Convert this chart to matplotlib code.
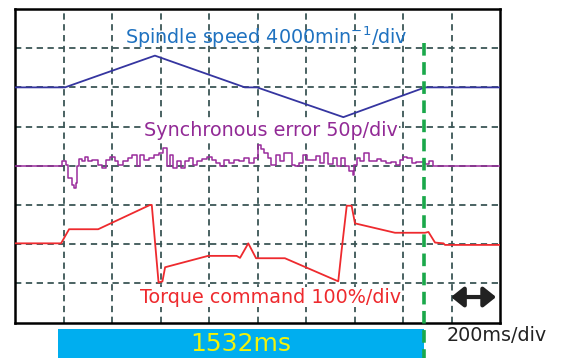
import matplotlib
matplotlib.use("Agg")
import matplotlib.pyplot as plt
from matplotlib.transforms import blended_transform_factory

# ---- data (time in ms, 200 ms/div) ----
speed_t = [0, 206, 577, 948, 998, 1354, 1691, 2000]
speed_v = [0, 0, 3240, 0, 0, -3040, 0, 0]          # min^-1, 4000/div

err_t = [0, 192, 198, 206, 213, 227, 241, 248, 254, 259, 268, 282, 296, 309, 330, 351,
         364, 385, 402, 419, 433, 454, 474, 495, 509, 525, 543, 564, 584, 602, 619, 633,
         646, 660, 677, 694, 708, 724, 742, 763, 783, 804, 818, 838, 852, 873, 893, 914,
         934, 955, 976, 996, 1007, 1021, 1035, 1049, 1065, 1086, 1099, 1117, 1134, 1148,
         1164, 1182, 1196, 1213, 1230, 1251, 1265, 1281, 1299, 1320, 1334, 1354, 1368,
         1389, 1395, 1402, 1416, 1430, 1450, 1468, 1485, 1501, 1519, 1540, 1560, 1581,
         1595, 1608, 1629, 1643, 1663, 1684, 1698, 1716, 1732, 1740, 2000]
err_v = [0, 0, 5.5, 5.5, 1.5, -15.7, -25, -28.5, -22.1, 0, 8.9, 5.5, 10.6, 5.5, 7.7, 1.3,
         -2.9, 7.7, 10.6, 5.5, 1.3, 5.5, 9.8, 13.2, -0.9, 13.2, 7.7, 9.8, 14.0, 16.2, 22.6, -0.9,
         14.0, -2.9, 5.5, -2.9, 5.5, 9.8, 0.4, 6.4, 8.9, 10.6, 7.7, 3.4, -0.9, 7.7, 3.4, 7.7,
         5.5, 9.8, 3.4, 9.8, 26.8, 21.7, 16.2, 9.8, 1.3, 14.0, 5.5, 16.2, 16.2, 1.3,
         -0.9, 3.4, 14.0, 7.7, 7.7, 11.9, 3.4, 16.2, 2.1, 9.8, -0.9, 9.8, -0.9,
         -7.2, -11.5, 1.3, 9.8, 5.5, 16.2, 5.5, 6.4, 8.9, 6.4, 3.4, 4.5, 0.4,
         7.7, 10.6, 9.8, 3.4, 4.7, 4.7, 2.1, 5.5, 0, 0, 0]          # pulses, 50p/div

torque_t = [0, 190, 223, 343, 557, 564, 592, 608, 619, 796, 914, 928, 962, 994, 1113,
            1333, 1347, 1368, 1388, 1402, 1567, 1691, 1705, 1732, 1767, 1773, 2000]
torque_v = [2, 2, 38, 38, 100, 100, -98, -95, -59, -30, -30, -35, 2, -36, -36,
            -95, -15, 98, 98, 53, 29, 29, 31, 4, 2, -2, -2]     # %, 100%/div

cursor_ms = 1687
bar_start_ms = 177
bar_label = "1532ms"

fig = plt.figure(figsize=(5.72, 3.58), dpi=100)
ax = fig.add_axes([15/572, 35.5/358, 485/572, 313.5/358])
ax.set_xlim(0, 2000)
ax.set_ylim(0, 8)
ax.set_xticks(range(200, 2000, 200))
ax.set_yticks(range(1, 8))
ax.tick_params(length=0, labelbottom=False, labelleft=False)
ax.grid(True, color="#3c5656", linestyle=(0, (3.5, 2.5)), linewidth=1.3)
for s in ax.spines.values():
    s.set_linewidth(1.8)
    s.set_color("black")

ax.plot(speed_t, [6 + v / 4000 for v in speed_v], color="#3535a0", lw=1.3, zorder=3)
ax.plot(err_t, [4 + v / 50 for v in err_v], color="#9a2c9c", lw=1.1, zorder=3,
        drawstyle="steps-mid")
ax.plot(torque_t, [2 + v / 100 for v in torque_v], color="#ee2a2e", lw=1.3, zorder=3)

fs = 13.8
ax.text(1035, 7.28, "Spindle speed 4000min$^{-1}$/div", color="#1f72c0", fontsize=fs,
        ha="center", va="center", zorder=4)
ax.text(1056, 4.91, "Synchronous error 50p/div", color="#922a96", fontsize=fs,
        ha="center", va="center", zorder=4,
        bbox=dict(facecolor="white", edgecolor="none", pad=0.5))
ax.text(1054, 0.65, "Torque command 100%/div", color="#ee2a2e", fontsize=fs,
        ha="center", va="center", zorder=4,
        bbox=dict(facecolor="white", edgecolor="none", pad=0.5))

tr = blended_transform_factory(ax.transData, ax.transAxes)
# cyan bar with duration
ax.add_patch(plt.Rectangle((bar_start_ms, -0.115), cursor_ms - bar_start_ms, 0.095,
                           transform=tr, facecolor="#00aeef", edgecolor="none",
                           clip_on=False, zorder=5))
ax.text((bar_start_ms + cursor_ms) / 2, -0.07, bar_label, transform=tr, color="#f2f20a",
        fontsize=18, ha="center", va="center", clip_on=False, zorder=6)
# green cursor
ax.plot([cursor_ms, cursor_ms], [0.8915, -0.115], transform=tr, color="#1aa84a", lw=2.6,
        linestyle=(0, (3.5, 1.8)), clip_on=False, zorder=7)
# time scale arrow
ax.annotate("", xy=(1984, 0.65), xytext=(1798, 0.65),
            arrowprops=dict(arrowstyle="<|-|>,head_length=0.75,head_width=0.6",
                            color="#222222", lw=3.0, shrinkA=0, shrinkB=0), zorder=6)
ax.text(1781, -0.043, "200ms/div", transform=tr, color="#222222", fontsize=13.8,
        ha="left", va="center", clip_on=False)

fig.savefig("out.png", dpi=100)
